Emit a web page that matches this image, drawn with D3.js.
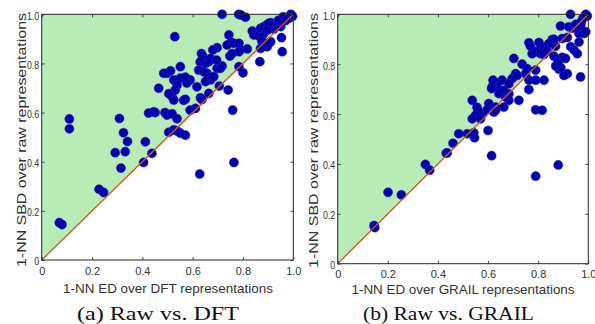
<!DOCTYPE html>
<html>
<head>
<meta charset="utf-8">
<script src="https://cdn.jsdelivr.net/npm/d3@7/dist/d3.min.js"></script>
<style>
  html, body { margin: 0; padding: 0; background: #fff; }
  svg { display: block; }
</style>
</head>
<body>
<svg id="chart" width="595" height="324"></svg>
<script>
// ---------------- data ----------------
const tickValues = [0, 0.2, 0.4, 0.6, 0.8, 1.0];
const tickLabels = ["0", "0.2", "0.4", "0.6", "0.8", "1.0"];

// (a) Raw vs. DFT : [ED over DFT, SBD over raw]
const dftData = [
  [0.717,1.0],[0.783,1.0],[0.792,0.997],[0.81,0.988],[0.96,0.99],[0.99,1.0],[0.997,0.992],[0.985,0.985],
  [0.529,0.909],[0.744,0.916],[0.753,0.886],[0.697,0.864],[0.68,0.855],[0.635,0.84],[0.64,0.83],
  [0.737,0.875],[0.763,0.882],[0.784,0.882],[0.79,0.856],[0.817,0.859],[0.784,0.848],[0.748,0.83],[0.757,0.84],
  [0.837,0.932],[0.843,0.916],[0.863,0.912],[0.88,0.918],[0.87,0.943],[0.883,0.95],[0.896,0.957],[0.91,0.966],
  [0.916,0.95],[0.923,0.94],[0.936,0.957],[0.95,0.95],[0.953,0.905],[0.902,0.963],[0.896,0.935],[0.94,0.975],[0.97,0.975],
  [0.956,0.848],[0.867,0.807],[0.87,0.861],[0.896,0.868],[0.91,0.888],[0.875,0.89],[0.903,0.882],
  [0.784,0.787],[0.80,0.762],[0.741,0.692],[0.759,0.61],
  [0.63,0.807],[0.651,0.80],[0.664,0.807],[0.671,0.82],[0.624,0.773],[0.644,0.766],[0.657,0.76],[0.664,0.746],
  [0.671,0.733],[0.651,0.726],[0.684,0.746],[0.697,0.78],[0.71,0.78],[0.717,0.79],[0.695,0.814],
  [0.631,0.66],[0.637,0.653],[0.664,0.678],[0.706,0.708],[0.59,0.733],[0.577,0.72],[0.617,0.705],[0.59,0.61],[0.611,0.617],
  [0.551,0.787],[0.551,0.74],[0.571,0.744],[0.525,0.733],[0.538,0.712],[0.531,0.692],[0.518,0.665],[0.525,0.651],
  [0.505,0.677],[0.485,0.76],[0.498,0.76],[0.512,0.77],
  [0.465,0.699],[0.49,0.6],[0.498,0.59],[0.451,0.6],[0.425,0.598],[0.445,0.603],[0.518,0.595],[0.538,0.575],
  [0.564,0.65],[0.571,0.654],
  [0.505,0.52],[0.525,0.53],[0.538,0.525],[0.551,0.516],[0.571,0.508],
  [0.412,0.481],[0.438,0.434],[0.292,0.437],[0.332,0.441],[0.325,0.518],[0.341,0.482],[0.309,0.576],
  [0.11,0.574],[0.11,0.534],
  [0.228,0.288],[0.246,0.275],[0.315,0.374],[0.405,0.397],[0.628,0.35],[0.764,0.397],[0.07,0.152],[0.081,0.144]
];

// (b) Raw vs. GRAIL : [ED over GRAIL, SBD over raw]
const grailData = [
  [0.929,1.0],[0.99,1.0],[0.996,0.993],[0.978,0.983],[0.972,0.97],[0.889,0.953],[0.922,0.95],[0.936,0.944],
  [0.956,0.95],[0.963,0.923],[0.976,0.93],[0.983,0.923],[0.99,0.93],[0.95,0.96],[0.97,0.955],
  [0.969,0.749],[0.916,0.762],[0.903,0.755],[0.883,0.78],[0.89,0.786],[0.87,0.793],
  [0.863,0.832],[0.869,0.872],[0.856,0.899],[0.863,0.9],[0.843,0.883],[0.823,0.87],[0.81,0.863],
  [0.763,0.886],[0.769,0.872],[0.803,0.887],
  [0.776,0.842],[0.79,0.85],[0.81,0.842],[0.823,0.839],[0.836,0.852],
  [0.79,0.776],[0.763,0.736],[0.79,0.736],[0.823,0.736],[0.763,0.698],[0.79,0.617],[0.816,0.615],
  [0.896,0.827],[0.909,0.823],[0.93,0.87],[0.943,0.857],[0.963,0.889],[0.956,0.842],[0.896,0.903],[0.916,0.907],[0.879,0.807],
  [0.703,0.823],[0.736,0.8],[0.723,0.655],[0.683,0.655],[0.67,0.668],[0.683,0.681],
  [0.63,0.723],[0.636,0.71],[0.656,0.736],[0.663,0.695],[0.617,0.71],[0.696,0.742],[0.71,0.762],[0.716,0.755],
  [0.75,0.762],[0.756,0.782],[0.683,0.722],
  [0.62,0.736],[0.614,0.702],[0.643,0.682],[0.603,0.642],[0.577,0.6],[0.596,0.617],
  [0.537,0.655],[0.556,0.627],[0.56,0.615],[0.55,0.595],[0.537,0.581],[0.57,0.581],
  [0.623,0.608],[0.63,0.628],[0.63,0.615],[0.663,0.628],
  [0.483,0.521],[0.517,0.521],[0.543,0.525],[0.546,0.505],[0.6,0.534],[0.46,0.483],[0.433,0.443],[0.614,0.433],
  [0.437,0.444],[0.35,0.398],[0.367,0.375],[0.201,0.286],[0.254,0.276],[0.145,0.153],[0.148,0.145],
  [0.79,0.351],[0.88,0.396]
];

const panelTexts = [
  { xLabel: "1-NN ED over DFT representations",   yLabel: "1-NN SBD over raw representations", caption: "(a) Raw vs. DFT" },
  { xLabel: "1-NN ED over GRAIL representations", yLabel: "1-NN SBD over raw representations", caption: "(b) Raw vs. GRAIL" }
];

// ---------------- layout ----------------
const layouts = [
  { left: 41.7, right: 293.3, top: 14.3, bottom: 260.0, xTickPad: 7.2,
    xLabelX: 168, xLabelY: 292.5, xLabelLen: 210,
    yLabelX: 25.5, yLabelY: 140, yLabelLen: 254,
    capX: 158, capY: 319.5, capLen: 162 },
  { left: 337.7, right: 588.3, top: 14.3, bottom: 263.7, xTickPad: 6.3,
    xLabelX: 463, xLabelY: 293.5, xLabelLen: 223,
    yLabelX: 318, yLabelY: 140.5, yLabelLen: 255,
    capX: 448.5, capY: 319.5, capLen: 171 }
];

const svg = d3.select("#chart");
const FONT = "'Liberation Sans', Arial, Helvetica, sans-serif";
const SERIF = "'Liberation Serif', 'Times New Roman', serif";
const axisColor = "#262626";

[dftData, grailData].forEach((data, i) => {
  const L = layouts[i], T = panelTexts[i];
  const x = d3.scaleLinear().domain([0, 1]).range([L.left, L.right]);
  const y = d3.scaleLinear().domain([0, 1]).range([L.bottom, L.top]);
  const g = svg.append("g");

  // green upper triangle
  g.append("path")
    .attr("d", d3.line()([[x(0), y(0)], [x(0), y(1)], [x(1), y(1)]]) + "Z")
    .attr("fill", "#b8ecb7");

  // points
  g.append("g").selectAll("circle").data(data).join("circle")
    .attr("cx", d => x(d[0])).attr("cy", d => y(d[1]))
    .attr("r", 4.6)
    .attr("fill", "#0000a8")
    .attr("stroke", "#2a2ad0").attr("stroke-width", 0.5);

  // diagonal
  g.append("line")
    .attr("x1", x(0)).attr("y1", y(0)).attr("x2", x(1)).attr("y2", y(1))
    .attr("stroke", "#d95319").attr("stroke-width", 1.3);

  // axes
  const fmt = (d) => tickLabels[tickValues.indexOf(d)];
  const xb = g.append("g").attr("transform", `translate(0,${L.bottom})`)
    .call(d3.axisBottom(x).tickValues(tickValues).tickFormat(fmt).tickSize(-3).tickSizeOuter(0).tickPadding(L.xTickPad));
  const yl = g.append("g").attr("transform", `translate(${L.left},0)`)
    .call(d3.axisLeft(y).tickValues(tickValues).tickFormat(fmt).tickSize(-3).tickSizeOuter(0).tickPadding(2.5));
  const xt = g.append("g").attr("transform", `translate(0,${L.top})`)
    .call(d3.axisTop(x).tickValues(tickValues).tickFormat("").tickSize(-3).tickSizeOuter(0));
  const yr = g.append("g").attr("transform", `translate(${L.right},0)`)
    .call(d3.axisRight(y).tickValues(tickValues).tickFormat("").tickSize(-3).tickSizeOuter(0));

  [xb, yl, xt, yr].forEach(a => {
    a.select(".domain").remove();
    a.selectAll("line").attr("stroke", axisColor).attr("stroke-width", 0.8);
    a.selectAll("text").attr("fill", "#333").style("font-family", FONT).style("font-size", "11px");
  });
  // y tick labels are horizontally condensed in the reference
  yl.selectAll("text").attr("dy", "0.45em").each(function () {
    const w = this.getComputedTextLength();
    d3.select(this).attr("textLength", w * 0.8).attr("lengthAdjust", "spacingAndGlyphs");
  });

  // frame
  g.append("rect")
    .attr("x", x(0)).attr("y", y(1))
    .attr("width", x(1) - x(0)).attr("height", y(0) - y(1))
    .attr("fill", "none").attr("stroke", axisColor).attr("stroke-width", 1);

  // axis labels
  g.append("text")
    .attr("x", L.xLabelX).attr("y", L.xLabelY)
    .attr("text-anchor", "middle")
    .attr("textLength", L.xLabelLen).attr("lengthAdjust", "spacingAndGlyphs")
    .style("font-family", FONT).style("font-size", "13.5px").attr("fill", "#333")
    .text(T.xLabel);

  g.append("text")
    .attr("transform", `translate(${L.yLabelX},${L.yLabelY}) rotate(-90)`)
    .attr("text-anchor", "middle")
    .attr("textLength", L.yLabelLen).attr("lengthAdjust", "spacingAndGlyphs")
    .style("font-family", FONT).style("font-size", "13.5px").attr("fill", "#333")
    .text(T.yLabel);

  // caption
  g.append("text")
    .attr("x", L.capX).attr("y", L.capY)
    .attr("text-anchor", "middle")
    .attr("textLength", L.capLen).attr("lengthAdjust", "spacingAndGlyphs")
    .style("font-family", SERIF).style("font-size", "19px").attr("fill", "#111")
    .text(T.caption);
});
</script>
</body>
</html>
